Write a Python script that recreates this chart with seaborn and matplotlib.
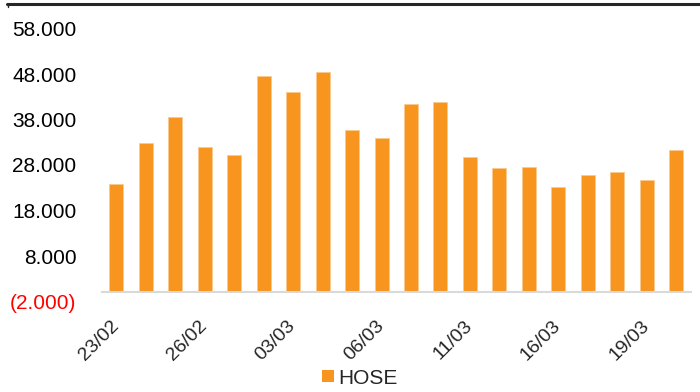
import matplotlib
matplotlib.use("Agg")
import matplotlib.pyplot as plt
from matplotlib.lines import Line2D
from matplotlib.patches import Patch
from matplotlib.ticker import FuncFormatter, FixedLocator
import seaborn as sns
import pandas as pd

# Daily trading value on HOSE
dates = ["23/02", "24/02", "25/02", "26/02", "27/02", "02/03", "03/03", "04/03",
         "05/03", "06/03", "09/03", "10/03", "11/03", "12/03", "13/03", "16/03",
         "17/03", "18/03", "19/03", "20/03"]
hose = [23800, 32800, 38500, 32000, 30200, 47600, 44000, 48400,
        35600, 33900, 41300, 41900, 29800, 27300, 27600, 23200,
        25700, 26500, 24700, 31200]
y_ticks = [-2000, 8000, 18000, 28000, 38000, 48000, 58000]
series_name = "HOSE"

bar_color = "#F7951F"

sns.set_theme(style="white")
plt.rcParams["font.family"] = ["Liberation Sans", "DejaVu Sans"]

df = pd.DataFrame({"date": dates, "value": hose})

fig = plt.figure(figsize=(7.0, 3.92), dpi=100)
ax = fig.add_axes([101.5 / 700, 90.5 / 392, 589.5 / 700, 273 / 392])

sns.barplot(data=df, x="date", y="value", color=bar_color, width=0.475,
            saturation=1, edgecolor="#FBC98E", linewidth=0.6, ax=ax)

ax.set_xlim(-0.5, len(dates) - 0.5)
ax.set_ylim(y_ticks[0], y_ticks[-1])

# Axis line sits at zero; other spines hidden
ax.set_xlabel("")
ax.set_ylabel("")
for side in ["left", "right", "top"]:
    ax.spines[side].set_visible(False)
ax.spines["bottom"].set_position(("data", 0))
ax.spines["bottom"].set_color("#D9D9D9")
ax.spines["bottom"].set_linewidth(1.5)
ax.grid(False)


def fmt(v, _pos):
    s = f"{abs(int(round(v))):,}".replace(",", ".")
    return f"({s})" if v < 0 else s


ax.tick_params(axis="y", length=0, pad=18, labelsize=15, colors="#000000")
ax.tick_params(axis="x", length=0, pad=22)

ax.yaxis.set_major_locator(FixedLocator(y_ticks))
ax.yaxis.set_major_formatter(FuncFormatter(fmt))
fig.canvas.draw()
for lbl, v in zip(ax.get_yticklabels(), y_ticks):
    lbl.set_color("#FF0000" if v < 0 else "#000000")

shown = list(range(0, len(dates), 3))
ax.set_xticks(shown)
ax.set_xticklabels([dates[i] for i in shown], rotation=45, ha="right",
                   va="center", rotation_mode="anchor", fontsize=14)

# Dark rule across the top of the figure
fig.add_artist(Line2D([7 / 700, 1.0], [1 - 4 / 392, 1 - 4 / 392],
                      color="#262626", linewidth=2.2, transform=fig.transFigure))
fig.add_artist(Line2D([7.5 / 700, 7.5 / 700], [1 - 4 / 392, 1 - 6.5 / 392],
                      color="#262626", linewidth=1, transform=fig.transFigure))

handle = Patch(facecolor=bar_color, edgecolor="none")
fig.legend([handle], [series_name], loc="center", bbox_to_anchor=(360 / 700, 1 - 378 / 392),
           frameon=False, fontsize=15, handlelength=0.55, handleheight=0.55,
           handletextpad=0.2, borderpad=0)

fig.savefig("out.png", dpi=100)
